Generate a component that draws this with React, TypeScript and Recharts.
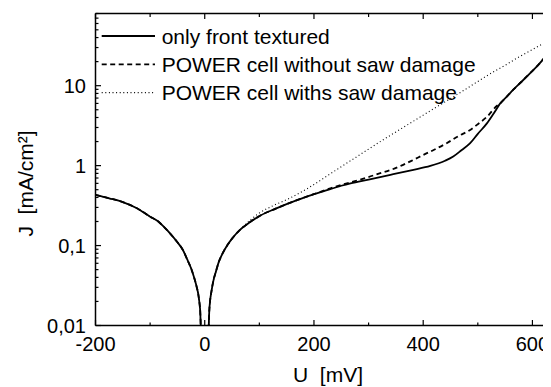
import React from 'react';
import { LineChart, Line, XAxis, YAxis, Legend } from 'recharts';

const FONT = '"Liberation Sans", Arial, Helvetica, sans-serif';

// |J| in mA/cm² against U in mV
// all three samples lie on top of each other up to ~70 mV
const commonBranch: [number, number][] = [
    [-200, 0.43], [-175, 0.39], [-150, 0.35], [-125, 0.295], [-100, 0.23], [-85, 0.2],
    [-75, 0.172], [-62, 0.138], [-50, 0.11], [-40, 0.088], [-32, 0.067], [-25, 0.052],
    [-20, 0.041], [-15, 0.031], [-12, 0.025], [-10, 0.02], [-8.5, 0.016], [0, 0.0001],
    [8.5, 0.016], [10, 0.021], [12, 0.026], [16.5, 0.038], [20, 0.046], [25.6, 0.062],
    [32, 0.078], [41, 0.1], [50, 0.122], [65, 0.158],
];

const frontTextured: [number, number][] = [
    [80, 0.19], [90, 0.212], [102, 0.238], [130, 0.29], [169, 0.37], [200, 0.44],
    [218, 0.48], [250, 0.56], [267, 0.6], [300, 0.67], [340, 0.767], [380, 0.88],
    [413, 0.99], [440, 1.15], [455, 1.3], [470, 1.56], [486, 1.91], [500, 2.5],
    [517, 3.4], [530, 4.6], [541, 6.0], [553, 7.3], [565, 8.9], [580, 11.2],
    [596, 14.4], [610, 18], [620, 21.5], [634, 29],
];

const withoutSawDamage: [number, number][] = [
    [80, 0.19], [90, 0.212], [102, 0.238], [130, 0.29], [169, 0.37], [200, 0.44],
    [230, 0.52], [250, 0.575], [275, 0.64], [300, 0.72], [320, 0.8], [340, 0.88],
    [360, 1.0], [382, 1.18], [400, 1.36], [420, 1.58], [443, 1.91], [465, 2.35],
    [486, 2.8], [500, 3.3], [517, 4.1], [535, 5.6], [541, 6.0], [553, 7.3],
    [565, 8.9], [580, 11.2], [596, 14.4], [610, 18], [620, 21.5], [634, 29],
];

const withSawDamage: [number, number][] = [
    [75, 0.185], [100, 0.255], [125, 0.315], [150, 0.375], [175, 0.46], [200, 0.58],
    [230, 0.79], [250, 0.97], [275, 1.25], [300, 1.61], [325, 2.07], [350, 2.64],
    [375, 3.36], [400, 4.28], [425, 5.45], [450, 6.9], [475, 8.8], [500, 11.3],
    [525, 14.4], [550, 18], [575, 22.8], [600, 28.3], [634, 38],
];

const xTicks = [-200, -100, 0, 100, 200, 300, 400, 500, 600];
const yMajor = [0.01, 0.1, 1, 10];
const yTicks = [
    0.01, 0.02, 0.03, 0.04, 0.05, 0.06, 0.07, 0.08, 0.09,
    0.1, 0.2, 0.3, 0.4, 0.5, 0.6, 0.7, 0.8, 0.9,
    1, 2, 3, 4, 5, 6, 7, 8, 9,
    10, 20, 30, 40, 50, 60, 70, 80,
];
const yLabels: Record<string, string> = { '0.01': '0,01', '0.1': '0,1', '1': '1', '10': '10' };

const series = [
    { name: 'only front textured', data: commonBranch.concat(frontTextured), dash: undefined, width: 1.8 },
    { name: 'POWER cell without saw damage', data: commonBranch.concat(withoutSawDamage), dash: '5 3.5', width: 1.8 },
    { name: 'POWER cell withs saw damage', data: commonBranch.concat(withSawDamage), dash: '1 2.6', width: 1.1 },
];

const toRows = (pts: [number, number][]) => pts.map(([u, j]) => ({ u, j }));

const BottomTick = ({ x, y, payload }: any) => {
    const major = payload.value % 200 === 0;
    return (
        <g>
            <line x1={x} x2={x} y1={y} y2={y - (major ? 5.5 : 3)} stroke="#000" strokeWidth={1.2} />
            {major && (
                <text x={x} y={y + 25.8} textAnchor="middle" fontSize={20} fontFamily={FONT} fill="#000">
                    {payload.value}
                </text>
            )}
        </g>
    );
};

const TopTick = ({ x, y, payload }: any) => {
    const major = payload.value % 200 === 0;
    return <line x1={x} x2={x} y1={y} y2={y + (major ? 5.5 : 3.5)} stroke="#000" strokeWidth={1.2} />;
};

const LeftTick = ({ x, y, payload }: any) => {
    const major = yMajor.includes(payload.value);
    return (
        <g>
            <line x1={x} x2={x + (major ? 5.5 : 3)} y1={y} y2={y} stroke="#000" strokeWidth={1.2} />
            {major && (
                <text x={x - 9.5} y={y + 7.2} textAnchor="end" fontSize={20} fontFamily={FONT} fill="#000">
                    {yLabels[String(payload.value)]}
                </text>
            )}
        </g>
    );
};

const YTitle = () => (
    <text
        x={17}
        y={175.5}
        transform="rotate(-90, 17, 175.5)"
        textAnchor="middle"
        dominantBaseline="central"
        fontSize={21}
        fontFamily={FONT}
        fill="#000"
        style={{ whiteSpace: 'pre' }}
    >
        {'J  [mA/cm²]'}
    </text>
);

const XTitle = () => (
    <text x={320} y={374} textAnchor="middle" fontSize={21} fontFamily={FONT} fill="#000" style={{ whiteSpace: 'pre' }}>
        {'U  [mV]'}
    </text>
);

const LegendBox = () => (
    <svg width={420} height={90}>
        {series.map((s, i) => {
            const cy = 10 + i * 28.3;
            return (
                <g key={s.name}>
                    <line x1={3.7} x2={57} y1={cy} y2={cy} stroke="#000" strokeWidth={s.width} strokeDasharray={s.dash} />
                    <text x={63.7} y={cy + 7.5} fontSize={21} fontFamily={FONT} fill="#000">
                        {s.name}
                    </text>
                </g>
            );
        })}
    </svg>
);

const App: React.FC = () => {
    const order = [2, 1, 0];
    return (
        <div style={{ width: 543, height: 379 }}>
            <LineChart width={543} height={379} margin={{ top: 0, right: 0, bottom: 0, left: 0 }}>
                <XAxis
                    xAxisId="top"
                    orientation="top"
                    type="number"
                    dataKey="u"
                    domain={[-200, 634]}
                    allowDataOverflow
                    ticks={xTicks}
                    interval={0}
                    height={5.5}
                    tickSize={0}
                    tickMargin={0}
                    tick={<TopTick />}
                    axisLine={{ stroke: '#000', strokeWidth: 1.5 }}
                />
                <XAxis
                    type="number"
                    dataKey="u"
                    domain={[-200, 634]}
                    allowDataOverflow
                    ticks={xTicks}
                    interval={0}
                    height={61.5}
                    tickSize={0}
                    tickMargin={0}
                    tick={<BottomTick />}
                    axisLine={{ stroke: '#000', strokeWidth: 1.5 }}
                    label={<XTitle />}
                />
                <YAxis
                    scale="log"
                    type="number"
                    dataKey="j"
                    domain={[0.01, 80]}
                    allowDataOverflow
                    ticks={yTicks}
                    interval={0}
                    width={87.5}
                    tickSize={0}
                    tickMargin={0}
                    tick={<LeftTick />}
                    axisLine={{ stroke: '#000', strokeWidth: 1.5 }}
                    label={<YTitle />}
                />
                <Legend
                    layout="horizontal"
                    align="center"
                    verticalAlign="middle"
                    wrapperStyle={{ left: 90, top: 18, width: 420, height: 90 }}
                    content={() => <LegendBox />}
                />
                {order.map(i => {
                    const s = series[i];
                    return (
                        <Line
                            key={s.name}
                            data={toRows(s.data)}
                            dataKey="j"
                            name={s.name}
                            type="monotone"
                            stroke="#000"
                            strokeWidth={s.width}
                            strokeDasharray={s.dash}
                            dot={false}
                            activeDot={false}
                            isAnimationActive={false}
                        />
                    );
                })}
            </LineChart>
        </div>
    );
};

export default App;
